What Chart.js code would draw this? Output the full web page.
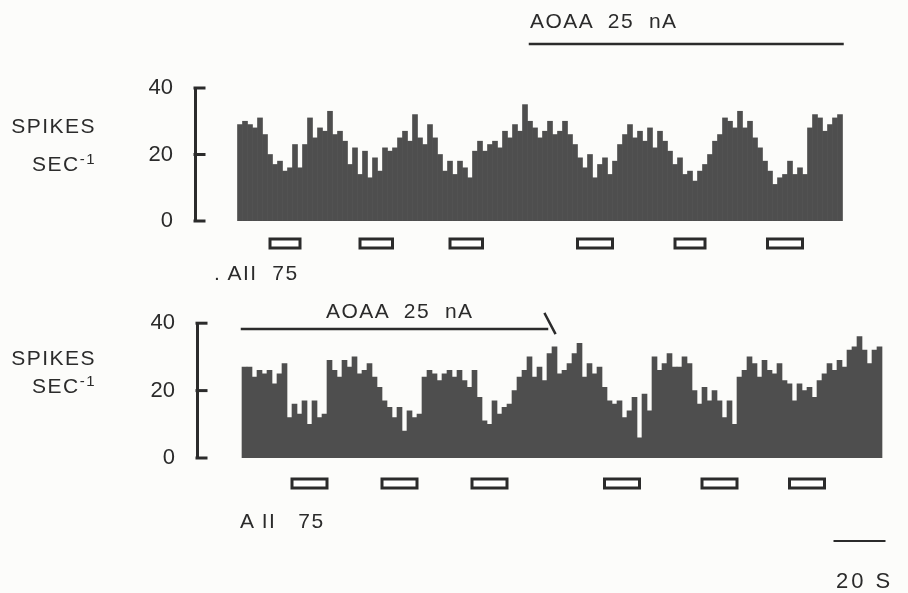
<!DOCTYPE html>
<html>
<head>
<meta charset="utf-8">
<script src="https://cdn.jsdelivr.net/npm/chart.js@4.4.1/dist/chart.umd.min.js"></script>
<style>
  body { margin: 0; background: #fcfcfa; }
  #wrap {
    position: relative; width: 908px; height: 593px; overflow: hidden;
    font-family: "Liberation Sans", Arial, sans-serif; color: #2b2b2b;
  }
  canvas { position: absolute; left: 0; }
  .lbl { position: absolute; font-size: 21px; line-height: 21px; white-space: pre; letter-spacing: 1.5px; }
  .sup { font-size: 15px; position: relative; top: -7px; }
</style>
</head>
<body>
<div id="wrap">
  <canvas id="top-chart" width="908" height="296" style="top:0"></canvas>
  <canvas id="bottom-chart" width="908" height="297" style="top:296px"></canvas>

  <div class="lbl" style="left:530px;top:10px;">AOAA  25  nA</div>
  <div class="lbl" style="right:812px;top:115px;">SPIKES</div>
  <div class="lbl" style="right:812px;top:153px;">SEC<span class="sup">-1</span></div>
  <div class="lbl" style="left:214px;top:262px;">. AII  75</div>

  <div class="lbl" style="left:326px;top:300px;">AOAA  25  nA</div>
  <div class="lbl" style="right:812px;top:347px;">SPIKES</div>
  <div class="lbl" style="right:812px;top:375px;">SEC<span class="sup">-1</span></div>
  <div class="lbl" style="left:240px;top:510px;">A II   75</div>

  <div class="lbl" style="left:836px;top:570px;font-size:22px;letter-spacing:3px;">20 S</div>
</div>

<script>
// spike rate, 2 s bins (spikes per second)
const TOP_RATE = [
  29, 30, 29, 28, 31, 26,
  20, 17, 18, 15, 16, 23, 16,
  23, 31, 25, 28, 27, 33, 26, 27, 24,
  17, 22, 14, 21, 13, 19, 15, 22, 21,
  22, 25, 27, 24, 32, 25, 23, 29, 25,
  20, 15, 18, 14, 18, 16, 13, 21, 24,
  21, 23, 24, 22, 27, 25, 29, 27, 35, 30, 28, 25, 27, 30, 26, 27, 30, 26, 23,
  19, 16, 20, 13, 17, 19, 14, 18,
  23, 26, 29, 25, 27, 24, 28, 22, 27, 24,
  21, 17, 19, 14, 15, 12, 15, 17,
  20, 24, 26, 31, 30, 28, 33, 28, 30, 25, 22, 18,
  15, 11, 13, 14, 18, 14, 16, 14,
  28, 32, 31, 27, 29, 31, 32,
];

const BOTTOM_RATE = [
  27, 27, 24, 26, 25, 26, 22, 25, 28,
  12, 16, 13, 17, 10, 17, 12, 13, 29,
  26, 24, 29, 27, 30, 25, 26, 28, 24, 21, 17,
  15, 12, 15, 8, 14, 12, 13,
  24, 26, 25, 23, 25, 26, 24, 26, 23, 21, 26, 18, 11, 10, 17, 13, 15, 16,
  20, 24, 26, 30, 24, 27, 23, 31, 33, 25, 26, 28, 31, 34, 24, 28, 25, 27,
  21, 17, 16, 17, 12, 14, 18, 6, 19, 14,
  30, 26, 28, 31, 27, 27, 30, 28, 20, 16,
  21, 17, 20, 17, 12, 17, 10, 24,
  26, 30, 28, 24, 29, 26, 25, 28, 23,
  22, 17, 22, 20, 21, 18,
  23, 25, 28, 26, 29, 27, 32, 33, 36, 32, 28, 32, 33,
];

const BIN_SECONDS = 2;
const Y_TICKS = [0, 20, 40];

// AII 75 applications (s from start of each record)
const TOP_AII_ON = [13, 49, 85, 136, 175, 212];
const TOP_AII_OFF = [25, 62, 98, 150, 187, 226];
const BOTTOM_AII_ON = [20, 56, 92, 145, 184, 219];
const BOTTOM_AII_OFF = [34, 70, 106, 159, 198, 233];

// AOAA 25 nA
const TOP_AOAA = [117, 242];
const BOTTOM_AOAA = [0, 122];

// 20 s calibration
const SCALE_BAR = [237, 257];

const INK = "#2b2b2b";
const BAR_COLOR = "#4e4e4e";

const toPoints = (rates) =>
  rates.map((v, i) => ({ x: i * BIN_SECONDS + BIN_SECONDS / 2, y: v }));

const marksPlugin = {
  id: "marks",
  afterDraw(chart, args, opts) {
    const ctx = chart.ctx;
    const xs = chart.scales.x;
    const ys = chart.scales.y;
    const area = chart.chartArea;
    ctx.save();
    ctx.strokeStyle = INK;
    ctx.lineCap = "square";

    // inward tick marks on the axis
    ctx.lineWidth = 3;
    Y_TICKS.forEach((v) => {
      const py = ys.getPixelForValue(v);
      ctx.beginPath();
      ctx.moveTo(area.left, py);
      ctx.lineTo(area.left + 9, py);
      ctx.stroke();
    });

    // application boxes
    ctx.lineWidth = 3;
    ctx.fillStyle = "#ffffff";
    opts.stimOn.forEach((t0, i) => {
      const x0 = xs.getPixelForValue(t0);
      const x1 = xs.getPixelForValue(opts.stimOff[i]);
      ctx.fillRect(x0, opts.stimY, x1 - x0, 9);
      ctx.strokeRect(x0, opts.stimY, x1 - x0, 9);
    });

    // drug bar
    ctx.lineWidth = 2.5;
    const d0 = xs.getPixelForValue(opts.drug[0]);
    const d1 = xs.getPixelForValue(opts.drug[1]);
    ctx.beginPath();
    ctx.moveTo(d0, opts.drugY);
    ctx.lineTo(d1, opts.drugY);
    ctx.stroke();
    if (opts.drugHook) {
      ctx.beginPath();
      ctx.moveTo(d1 - 2, opts.drugY - 15);
      ctx.lineTo(d1 + 8, opts.drugY + 4);
      ctx.stroke();
    }

    // time calibration
    if (opts.scaleBar) {
      const s0 = xs.getPixelForValue(opts.scaleBar[0]);
      const s1 = xs.getPixelForValue(opts.scaleBar[1]);
      ctx.lineWidth = 2;
      ctx.beginPath();
      ctx.moveTo(s0, opts.scaleY);
      ctx.lineTo(s1, opts.scaleY);
      ctx.stroke();
    }
    ctx.restore();
  },
};

const makeChart = (canvasId, rates, panel) => {
  const canvas = document.getElementById(canvasId);
  return new Chart(canvas, {
    type: "bar",
    data: {
      datasets: [
        {
          data: toPoints(rates),
          backgroundColor: BAR_COLOR,
          borderWidth: 0,
          barPercentage: 1,
          categoryPercentage: 1,
        },
      ],
    },
    options: {
      responsive: false,
      animation: false,
      devicePixelRatio: 1,
      layout: { padding: panel.padding },
      plugins: {
        legend: { display: false },
        tooltip: { enabled: false },
        marks: panel.marks,
      },
      scales: {
        x: {
          type: "linear",
          offset: false,
          min: panel.xMin,
          max: panel.xMax,
          display: false,
        },
        y: {
          min: 0,
          max: 40,
          afterFit: (scale) => {
            scale.width = panel.axisX;
          },
          afterBuildTicks: (scale) => {
            scale.ticks = Y_TICKS.map((v) => ({ value: v }));
          },
          ticks: {
            color: INK,
            padding: 14,
            font: { family: "Liberation Sans", size: 22 },
          },
          grid: { display: false },
          border: { display: true, color: INK, width: 3 },
        },
      },
    },
    plugins: [marksPlugin],
  });
};

makeChart("top-chart", TOP_RATE, {
  axisX: 195,
  xMin: -17,
  xMax: 243,
  padding: { top: 88, bottom: 75, left: 0, right: 63 },
  marks: {
    stimOn: TOP_AII_ON,
    stimOff: TOP_AII_OFF,
    stimY: 239,
    drug: TOP_AOAA,
    drugY: 44,
    drugHook: false,
  },
});

makeChart("bottom-chart", BOTTOM_RATE, {
  axisX: 197,
  xMin: -18,
  xMax: 258,
  padding: { top: 26, bottom: 135, left: 0, right: 21 },
  marks: {
    stimOn: BOTTOM_AII_ON,
    stimOff: BOTTOM_AII_OFF,
    stimY: 183,
    drug: BOTTOM_AOAA,
    drugY: 33,
    drugHook: true,
    scaleBar: SCALE_BAR,
    scaleY: 245,
  },
});
</script>
</body>
</html>
